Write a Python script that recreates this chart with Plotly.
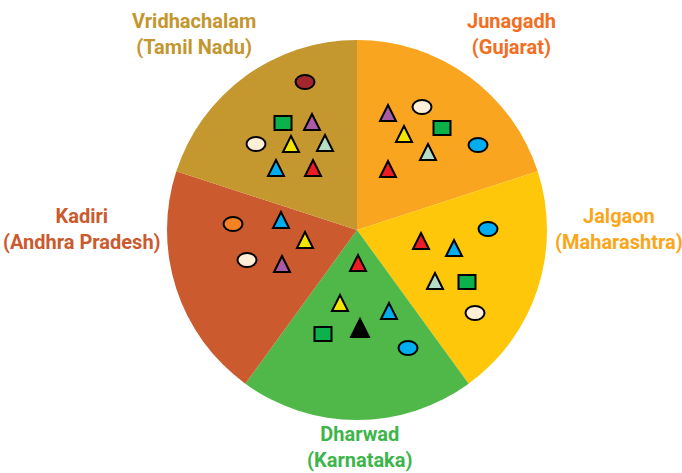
import plotly.graph_objects as go

# Five collection sites, drawn as equal slices clockwise from 12 o'clock
sites = ["Junagadh", "Jalgaon", "Dharwad", "Kadiri", "Vridhachalam"]
states = ["Gujarat", "Maharashtra", "Karnataka", "Andhra Pradesh", "Tamil Nadu"]
slice_share = [1, 1, 1, 1, 1]
slice_colors = ["#F9A51F", "#FFC709", "#50B848", "#CB5A2E", "#C4972F"]
label_colors = ["#F26E22", "#FAA61A", "#3DB54A", "#CB5A2E", "#C4962E"]
label_x = [511, 619, 360, 82, 194]
label_y = [34, 229, 447, 229, 34]

# Isolates found at each site: marker kind, fill colour and centre (px)
marker_site = (["Vridhachalam"] * 8 + ["Junagadh"] * 7 + ["Jalgaon"] * 6
               + ["Kadiri"] * 5 + ["Dharwad"] * 6)
marker_kind = [
    "ellipse", "square", "triangle", "ellipse", "triangle", "triangle", "triangle", "triangle",
    "triangle", "ellipse", "triangle", "square", "ellipse", "triangle", "triangle",
    "ellipse", "triangle", "triangle", "triangle", "square", "ellipse",
    "ellipse", "triangle", "triangle", "ellipse", "triangle",
    "triangle", "triangle", "triangle", "square", "triangle", "ellipse",
]
marker_color = [
    "#A3282E", "#0DB14B", "#A95BA5", "#FFEFD6", "#F3E500", "#B4DCC6", "#00AEEF", "#ED1C24",
    "#A95BA5", "#FFEFD6", "#F3E500", "#0DB14B", "#00AEEF", "#B4DCC6", "#ED1C24",
    "#00AEEF", "#ED1C24", "#00AEEF", "#B4DCC6", "#0DB14B", "#FFEFD6",
    "#F58220", "#00AEEF", "#F3E500", "#FFEFD6", "#A95BA5",
    "#ED1C24", "#F3E500", "#00AEEF", "#0DB14B", "#000000", "#00AEEF",
]
marker_x = [
    305, 283, 312, 256, 291, 325, 276, 313,
    388, 422, 404, 442, 478, 428, 388,
    488, 421, 454, 435, 467, 475,
    233, 281, 305, 247, 282,
    358, 340, 389, 323, 360, 408,
]
marker_y = [
    82, 123, 122, 144, 144, 143, 168, 168,
    113, 107, 134, 128, 145, 152, 169,
    229, 241, 248, 281, 282, 313,
    224, 220, 240, 260, 264,
    263, 303, 311, 334, 328, 348,
]

W, H = 682, 473
cx, cy, r = 357, 230, 190

fig = go.Figure()

# invisible carrier for the pixel-space axes used by the markers
fig.add_trace(go.Scatter(x=[0, W], y=[0, H], mode="markers",
                         marker=dict(opacity=0), hoverinfo="skip", showlegend=False))

fig.add_trace(go.Pie(
    labels=[f"{s} ({t})" for s, t in zip(sites, states)],
    values=slice_share,
    sort=False,
    direction="clockwise",
    rotation=0,
    marker=dict(colors=slice_colors, line=dict(width=0)),
    textinfo="none",
    hoverinfo="label",
    showlegend=False,
    domain=dict(x=[(cx - r) / W, (cx + r) / W], y=[(H - cy - r) / H, (H - cy + r) / H]),
))

shapes = []
for kind, col, x, y in zip(marker_kind, marker_color, marker_x, marker_y):
    edge = dict(color="#000000", width=2)
    if kind == "ellipse":
        shapes.append(dict(type="circle", xref="x", yref="y", layer="above",
                           x0=x - 9.5, x1=x + 9.5, y0=y - 7, y1=y + 7,
                           fillcolor=col, line=edge))
    elif kind == "square":
        shapes.append(dict(type="rect", xref="x", yref="y", layer="above",
                           x0=x - 8.5, x1=x + 8.5, y0=y - 7, y1=y + 7,
                           fillcolor=col, line=edge))
    else:
        half = 9 if col == "#000000" else 8
        path = (f"M{x - half},{y + half} L{x + half},{y + half} "
                f"L{x},{y - half} Z")
        shapes.append(dict(type="path", xref="x", yref="y", layer="above",
                           path=path, fillcolor=col, line=edge))

annotations = []
for s, t, col, x, y in zip(sites, states, label_colors, label_x, label_y):
    annotations.append(dict(
        x=x, y=y, xref="x", yref="y", showarrow=False,
        text=f"{s}<br>({t})", align="center",
        font=dict(family="Roboto, sans-serif", size=20, color=col, weight="bold"),
    ))

fig.update_layout(
    width=W, height=H,
    margin=dict(l=0, r=0, t=0, b=0),
    paper_bgcolor="white", plot_bgcolor="rgba(0,0,0,0)",
    xaxis=dict(range=[0, W], visible=False, fixedrange=True),
    yaxis=dict(range=[H, 0], visible=False, fixedrange=True),
    shapes=shapes,
    annotations=annotations,
)

fig.write_html("out.html")
